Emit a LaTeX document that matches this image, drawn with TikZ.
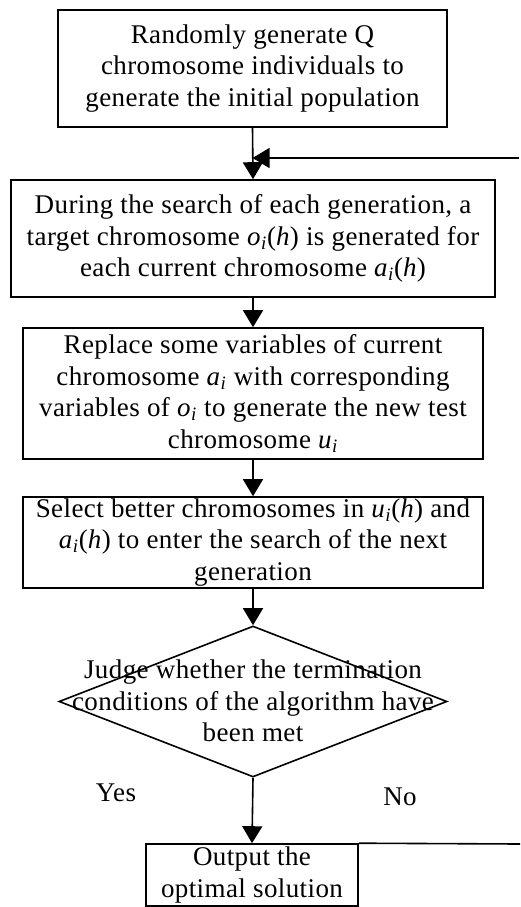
\documentclass[tikz,border=0pt]{standalone}
\usepackage{fontspec}
\setmainfont{Liberation Serif}[LetterSpace=1.5]
\usetikzlibrary{arrows.meta,shapes.geometric}
\newcommand{\iv}[1]{\textit{#1}}
\newcommand{\sub}[2]{\textit{#1}\textsubscript{\textit{#2}}}
\begin{document}
\begin{tikzpicture}[x=1pt,y=-1pt,
  every node/.style={font=\fontsize{27}{31.5}\selectfont, align=center, inner sep=0pt},
  stepbox/.style={draw, line width=1.6pt, rectangle},
  flow/.style={line width=1.6pt, -{Triangle[length=17pt,width=20pt]}},
  plain/.style={line width=1.6pt}]
\useasboundingbox (0,0) rectangle (520,907);

% process boxes
\node[stepbox, minimum width=389pt, minimum height=117pt] (init) at (252.5,68.5)
  {Randomly generate Q\\chromosome individuals to\\generate the initial population};
\node[stepbox, minimum width=484pt, minimum height=117pt] (target) at (253,238.5)
  {During the search of each generation, a\\target chromosome \sub{o}{i}(\iv{h}) is generated for\\each current chromosome \sub{a}{i}(\iv{h})};
\node[stepbox, minimum width=460pt, minimum height=131pt] (replace) at (253,393.5)
  {Replace some variables of current\\chromosome \sub{a}{i} with corresponding\\variables of \sub{o}{i} to generate the new test\\chromosome \sub{u}{i}};
\node[stepbox, minimum width=460pt, minimum height=91pt] (select) at (253,542.5)
  {Select better chromosomes in \sub{u}{i}(\iv{h}) and\\\sub{a}{i}(\iv{h}) to enter the search of the next\\generation};

% decision
\node[draw, line width=1.6pt, diamond, minimum width=388pt, minimum height=151pt] (judge) at (253,701.5) {};
\node (judgetext) at (253,701) {Judge whether the termination\\conditions of the algorithm have\\been met};

\node (yes) at (116,793) {Yes};
\node (no) at (400,797) {No};

% output
\node[stepbox, minimum width=212pt, minimum height=62pt] (out) at (252,875)
  {Output the\\optimal solution};

% connectors
\draw[flow] (init.south) -- (target.north);
\draw[flow] (target.south) -- (replace.north);
\draw[flow] (replace.south) -- (select.north);
\draw[flow] (select.south) -- (judge.north);
\draw[flow] (judge.south) -- (out.north);

% loop back into the generation step
\coordinate (loopin) at (519,158);
\coordinate (loopout) at (520,844);
\draw[flow] (loopin) -- (init.south |- loopin);
\draw[plain] (out.north east) -- (loopout);
\end{tikzpicture}
\end{document}
